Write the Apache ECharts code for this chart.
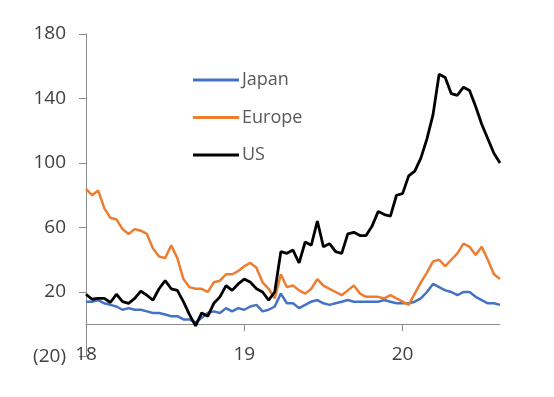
<!DOCTYPE html>
<html>
<head>
<meta charset="UTF-8">
<title>Japan / Europe / US</title>
<script src="https://cdn.jsdelivr.net/npm/echarts@6/dist/echarts.min.js"></script>
<style>
  html, body { margin: 0; padding: 0; background: #fff; }
  #main { width: 554px; height: 397px; }
</style>
</head>
<body>
<div id="main"></div>
<script>
// fortnightly readings, Jan 2018 - Aug 2020
const japan = [14, 14, 15, 13, 12, 11, 9, 10, 9, 9,
  8, 7, 7, 6, 5, 5, 3, 3, 1, 4,
  7, 8, 7, 10, 8, 10, 9, 11, 12, 8,
  9, 11, 19, 13, 13, 10, 12, 14, 15, 13,
  12, 13, 14, 15, 14, 14, 14, 14, 14, 15,
  14, 13, 13, 13, 14, 16, 20, 25, 23, 21,
  20, 18, 20, 20, 17, 15, 13, 13, 12];
const europe = [84, 80, 83, 72, 66, 65, 59, 56, 59, 58,
  56, 47, 42, 41, 49, 41, 28, 23, 22, 22,
  20, 26, 27, 31, 31, 33, 36, 38, 35, 26,
  22, 16, 31, 23, 24, 21, 19, 22, 28, 24,
  22, 20, 18, 21, 24, 19, 17, 17, 17, 16,
  18, 16, 14, 12, 19, 26, 32, 39, 40, 36,
  40, 44, 50, 48, 43, 48, 40, 31, 28];
const us = [18.6, 15.5, 16, 16, 13.5, 18.6, 14, 13, 16, 20.6,
  18, 15, 22, 27, 22, 21, 14, 6, -1, 7,
  5, 13, 17, 24, 21, 25, 28, 26, 22, 20,
  15, 20, 45, 44, 46, 38, 51, 49, 64, 48,
  50, 45, 44, 56, 57, 55, 55, 61, 70, 68,
  67, 80, 81, 92, 95, 103, 115, 130, 155, 153,
  143, 142, 147, 145, 135, 124, 115, 106, 100];

const seriesNames = ['Japan', 'Europe', 'US'];
const colors = ['#4472C4', '#ED7D31', '#000000'];
const yTicks = { min: -20, max: 180, step: 40 };

// category dates, one every 14 days from 5 Jan 2018 (26 per year)
const dates = [];
const start = Date.UTC(2018, 0, 5);
for (let i = 0; i < japan.length; i++) {
  dates.push(new Date(start + i * 14 * 864e5).toISOString().slice(0, 10));
}
const perYear = 26;
const yearStarts = dates.filter((d, i) => i > 0 && i % perYear === 0);

const chart = echarts.init(document.getElementById('main'));
const axisColor = '#8c8c8c';
const font = '"Open Sans", "Liberation Sans", sans-serif';

// grid geometry: the zero line sits this far above the grid bottom
const gridTop = 34, gridBottom = 40.5, plotH = 397 - gridTop - gridBottom;
const pxPerUnit = plotH / (yTicks.max - yTicks.min);
const zeroOffset = pxPerUnit * (0 - yTicks.min);
const tickDepth = -7 / pxPerUnit; // 7px tick below the zero line

chart.setOption({
  backgroundColor: '#fff',
  animation: false,
  grid: { left: 86, right: 54, top: gridTop, bottom: gridBottom },
  legend: {
    orient: 'vertical',
    left: 193,
    top: 70,
    padding: 0,
    itemGap: 17.5,
    itemWidth: 46,
    itemHeight: 3,
    icon: 'rect',
    data: seriesNames,
    textStyle: { fontFamily: font, fontSize: 18, color: '#595959', lineHeight: 20, padding: [0, 0, 0, -2] }
  },
  xAxis: [{
    // labels along the bottom
    type: 'category',
    boundaryGap: false,
    data: dates,
    axisLine: { show: false, onZero: false },
    axisTick: { show: false },
    axisLabel: {
      interval: perYear - 1,
      formatter: (v) => v.slice(2, 4),
      margin: -11,
      fontFamily: font,
      fontSize: 19,
      color: '#404040'
    },
    splitLine: { show: false }
  }, {
    // axis line at zero
    type: 'category',
    boundaryGap: false,
    data: dates,
    position: 'bottom',
    offset: -zeroOffset,
    axisLine: { show: true, onZero: false, lineStyle: { color: axisColor, width: 1 } },
    axisTick: { show: false },
    axisLabel: { show: false },
    splitLine: { show: false }
  }],
  yAxis: {
    type: 'value',
    min: yTicks.min,
    max: yTicks.max,
    interval: yTicks.step,
    axisLine: { show: true, onZero: false, lineStyle: { color: axisColor, width: 1 } },
    axisTick: { show: true, length: 7, lineStyle: { color: axisColor } },
    axisLabel: {
      margin: 20,
      fontFamily: font,
      fontSize: 19,
      color: '#404040',
      formatter: (v) => (v < 0 ? '(' + (-v) + ')' : String(v))
    },
    splitLine: { show: false }
  },
  series: [japan, europe, us].map((d, i) => ({
    name: seriesNames[i],
    type: 'line',
    xAxisIndex: 0,
    data: d,
    symbol: 'none',
    color: colors[i],
    lineStyle: { width: i === 2 ? 2.8 : 2.5, color: colors[i] },
    // year ticks hanging below the zero line
    markLine: i === 0 ? {
      silent: true,
      symbol: 'none',
      animation: false,
      label: { show: false },
      lineStyle: { color: axisColor, width: 1, type: 'solid' },
      data: yearStarts.map((d) => [{ xAxis: d, yAxis: 0 }, { xAxis: d, yAxis: tickDepth }])
    } : undefined
  }))
});
</script>
</body>
</html>
